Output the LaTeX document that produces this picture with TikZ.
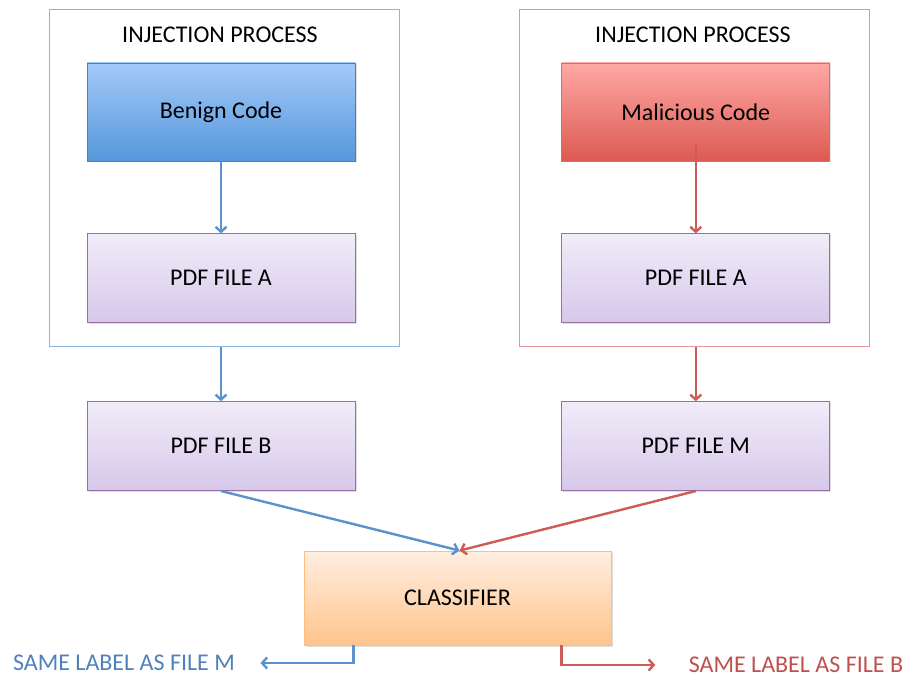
\documentclass[tikz,border=0pt]{standalone}
\usepackage{fontspec}
\setmainfont{Carlito}
\usetikzlibrary{arrows.meta,positioning,shadows}
\definecolor{frameblue}{RGB}{141,179,226}
\definecolor{framered}{RGB}{227,150,150}
\definecolor{linkblue}{RGB}{91,146,206}
\definecolor{linkred}{RGB}{205,91,87}
\definecolor{textblue}{RGB}{79,129,189}
\definecolor{textred}{RGB}{192,80,77}
\definecolor{benigntop}{RGB}{163,201,248}
\definecolor{benignbot}{RGB}{85,151,219}
\definecolor{maltop}{RGB}{255,168,165}
\definecolor{malbot}{RGB}{220,90,82}
\definecolor{filetop}{RGB}{241,236,249}
\definecolor{filebot}{RGB}{214,200,234}
\definecolor{classtop}{RGB}{255,238,224}
\definecolor{classbot}{RGB}{255,196,140}
\colorlet{fileedge}{filebot!70!violet!80!black}
\tikzstyle{block} = [rectangle, draw=fileedge, line width=0.8pt,
    top color=filetop, bottom color=filebot, text centered,
    minimum width=268pt, minimum height=89pt,
    drop shadow={shadow xshift=1.5pt, shadow yshift=-1.5pt, opacity=0.25}]
\tikzstyle{codeblue} = [block, draw=benignbot!85!black, top color=benigntop,
    bottom color=benignbot, minimum height=98pt]
\tikzstyle{codered} = [block, draw=malbot!90!white, top color=maltop,
    bottom color=malbot, minimum height=98pt]
\tikzstyle{classbox} = [block, draw=classbot!90!orange, top color=classtop,
    bottom color=classbot, minimum width=307pt, minimum height=94pt]
\tikzstyle{frame} = [rectangle, line width=1pt, minimum width=350pt,
    minimum height=337pt]
\tikzstyle{arrowblue} = [line width=2.4pt, draw=linkblue,
    -{Straight Barb[length=5pt,width=11pt]}]
\tikzstyle{arrowred} = [line width=2.4pt, draw=linkred,
    -{Straight Barb[length=5pt,width=11pt]}]
\begin{document}
\begin{tikzpicture}[x=1pt, y=1pt, font=\fontsize{24}{28}\selectfont]
    \useasboundingbox (0,0) rectangle (905,678);
    % Injection frames
    \node [frame, draw=frameblue] (procL) at (224,499.5) {};
    \node [frame, draw=framered] (procR) at (694,499.5) {};
    \node (titleL) at ([xshift=-4pt, yshift=-25pt]procL.north) {INJECTION PROCESS};
    \node (titleR) at ([xshift=-1pt, yshift=-25pt]procR.north) {INJECTION PROCESS};

    % Place nodes
    \node [codeblue] (benign) at (221,566) {Benign Code};
    \node [block, below=72pt of benign] (fileA1) {PDF FILE A};
    \node [block, below=78pt of fileA1] (fileB) {PDF FILE B};
    \node [codered, right=206pt of benign] (malicious) {Malicious Code};
    \node [block, below=72pt of malicious] (fileA2) {PDF FILE A};
    \node [block, below=78pt of fileA2] (fileM) {PDF FILE M};
    \node [classbox] (classifier) at (457.5,80) {CLASSIFIER};
    \node [text=textblue] (sameM) at (124,15) {SAME LABEL AS FILE M};
    \node [text=textred] (sameB) at (796,13) {SAME LABEL AS FILE B};

    % Draw edges
    \draw [arrowblue] (benign) -- (fileA1);
    \draw [arrowred] ([yshift=16pt]malicious.south) -- (fileA2);
    \draw [arrowblue] (fileA1.south |- procL.south) -- (fileB);
    \draw [arrowred] (fileA2.south |- procR.south) -- (fileM);
    \draw [arrowblue] (fileB.south) -- ([xshift=2pt]classifier.north);
    \draw [arrowred] (fileM.south) -- ([xshift=2pt]classifier.north);
    \draw [arrowblue, shorten >=22pt] ([xshift=50pt]classifier.south west) |- (sameM.east);
    \draw [arrowred, shorten >=30pt] ([xshift=-50pt]classifier.south east) |- (sameB.west);
\end{tikzpicture}
\end{document}
